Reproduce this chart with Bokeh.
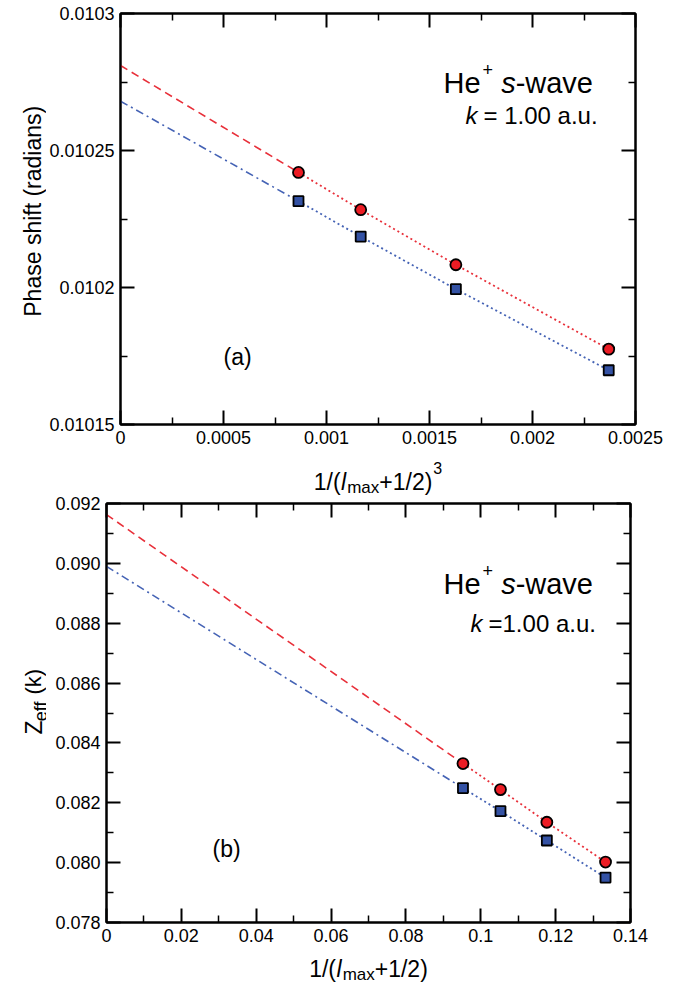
import math
from bokeh.plotting import figure
from bokeh.models import (Range1d, LinearAxis, FixedTicker, CustomJSTickFormatter, Label,
                          CustomLabelingPolicy)
from bokeh.layouts import column, row
from bokeh.embed import file_html
from bokeh.resources import INLINE

FONT = "Liberation Sans"

# ---------------- data: panel (a) ----------------
xa = [0.000864, 0.001166, 0.001628, 0.002370]          # 1/(lmax+1/2)^3 for lmax = 10, 9, 8, 7
red_a = [0.010242, 0.0102284, 0.0102083, 0.0101775]
blue_a = [0.0102315, 0.0102186, 0.0101994, 0.0101698]
red_a0 = 0.010281                                     # extrapolated value at 0
blue_a0 = 0.010268
xa_ticks = [0, 0.0005, 0.001, 0.0015, 0.002, 0.0025]
xa_labels = ["0", "0.0005", "0.001", "0.0015", "0.002", "0.0025"]
xa_minor = [0.00025, 0.00075, 0.00125, 0.00175, 0.00225]
ya_ticks = [0.01015, 0.0102, 0.01025, 0.0103]
ya_labels = ["0.01015", "0.0102", "0.01025", "0.0103"]
ya_minor = [0.010175, 0.010225, 0.010275]

# ---------------- data: panel (b) ----------------
xb = [0.09524, 0.10526, 0.11765, 0.13333]              # 1/(lmax+1/2)
red_b = [0.08331, 0.08244, 0.08135, 0.08002]
blue_b = [0.08249, 0.08172, 0.08074, 0.07950]
red_b0 = 0.09163
blue_b0 = 0.08990
xb_ticks = [0, 0.02, 0.04, 0.06, 0.08, 0.1, 0.12, 0.14]
xb_labels = ["0", "0.02", "0.04", "0.06", "0.08", "0.1", "0.12", "0.14"]
xb_minor = [0.01, 0.03, 0.05, 0.07, 0.09, 0.11, 0.13]
yb_ticks = [0.078, 0.080, 0.082, 0.084, 0.086, 0.088, 0.090, 0.092]
yb_labels = ["0.078", "0.080", "0.082", "0.084", "0.086", "0.088", "0.090", "0.092"]
yb_minor = [0.079, 0.081, 0.083, 0.085, 0.087, 0.089, 0.091]

RED_FILL = "#ec1c24"
RED_LINE = "#e8303a"
BLUE_FILL = "#3452a4"
BLUE_LINE = "#4563b5"

W = {'0': .556, '1': .556, '2': .556, '3': .556, '4': .556, '5': .556, '6': .556, '7': .556,
     '8': .556, '9': .556, '.': .278, '/': .278, '(': .333, ')': .333, '+': .584, 'l': .222,
     'm': .833, 'a': .556, 'x': .5, 'H': .722, 'e': .556, 's': .5, '-': .333, 'w': .722,
     'v': .5, 'k': .5, '=': .584, ' ': .278, 'u': .556, 'Z': .611, 'f': .278, 'P': .667,
     'h': .556, 'i': .222, 't': .278, 'r': .333, 'd': .556, 'n': .556}


def twidth(txt, size):
    return sum(W.get(c, .556) for c in txt) * size


FMT_CODE = """
let best = 0; let d = Infinity;
for (let i = 0; i < tv.length; i++) {
  const e = Math.abs(tv[i] - tick);
  if (e < d) { d = e; best = i; }
}
return tl[best];
"""

HIDE_CODE = """
try { for (let i = 0; i < indices.size; i++) indices.unset(i); } catch (e) {}
return indices;
"""


def make_fig(xr, yr, fw, fh, xt, xl, xm, yt, yl, ym, mb):
    p = figure(frame_width=fw, frame_height=fh, x_range=Range1d(*xr), y_range=Range1d(*yr),
               output_backend="svg", toolbar_location=None, title_location=None,
               min_border_left=mb[0], min_border_right=mb[1], min_border_top=mb[2],
               min_border_bottom=mb[3])
    p.grid.visible = False
    p.outline_line_color = "black"
    p.outline_line_width = 2
    p.background_fill_color = "white"
    p.border_fill_color = "white"
    xt_ = FixedTicker(ticks=xt, minor_ticks=xm)
    yt_ = FixedTicker(ticks=yt, minor_ticks=ym)
    p.xaxis.ticker = xt_
    p.yaxis.ticker = yt_
    p.xaxis.formatter = CustomJSTickFormatter(args=dict(tv=xt, tl=xl), code=FMT_CODE)
    p.yaxis.formatter = CustomJSTickFormatter(args=dict(tv=yt, tl=yl), code=FMT_CODE)
    for ax in list(p.xaxis) + list(p.yaxis):
        ax.major_label_text_font = FONT
        ax.major_label_text_font_size = "18px"
        ax.major_label_text_color = "black"
        ax.major_label_standoff = 6
    extra = [LinearAxis(ticker=xt_), LinearAxis(ticker=yt_)]
    p.add_layout(extra[0], "above")
    p.add_layout(extra[1], "right")
    for ax in extra:
        ax.major_label_text_font_size = "0px"
        ax.major_label_standoff = 0
        ax.major_label_policy = CustomLabelingPolicy(code=HIDE_CODE)
    for ax in list(p.xaxis) + list(p.yaxis) + extra:
        ax.axis_line_width = 2
        ax.axis_line_color = "black"
        ax.major_tick_in = 14
        ax.major_tick_out = 0
        ax.minor_tick_in = 7
        ax.minor_tick_out = 0
        ax.major_tick_line_width = 2
        ax.minor_tick_line_width = 1.5
        ax.major_tick_line_color = "black"
        ax.minor_tick_line_color = "black"
    return p


def strip(w, h):
    s = figure(width=w, height=h, x_range=Range1d(0, w), y_range=Range1d(0, h),
               output_backend="svg", toolbar_location=None, title_location=None,
               min_border_left=0, min_border_right=0, min_border_top=0, min_border_bottom=0)
    s.axis.visible = False
    s.grid.visible = False
    s.outline_line_color = None
    s.background_fill_color = "white"
    s.border_fill_color = "white"
    return s


def put_text(p, fx, fy, parts, xr, yr, fw, fh, vertical=False, align="left"):
    """parts: (text, size, style, dy, gap); fx, fy in px from frame top-left."""
    adv = 0.0
    for txt, size, style, dy, gap in parts:
        adv += gap
        if vertical:
            px, py = fx + dy, fy - adv
        else:
            px, py = fx + adv, fy + dy
        x = xr[0] + px * (xr[1] - xr[0]) / fw
        y = yr[1] - py * (yr[1] - yr[0]) / fh
        p.add_layout(Label(x=x, y=y, text=txt, text_font=FONT, text_font_size=f"{size}px",
                           text_font_style=style, text_color="black", text_align=align,
                           text_baseline="alphabetic",
                           angle=(math.pi / 2 if vertical else 0)))
        adv += twidth(txt, size)
    return adv


def put_strip(s, w, h, fx, fy, parts, vertical=False, align="left"):
    return put_text(s, fx, fy, parts, (0, w), (0, h), w, h, vertical, align)


def draw_series(p, xs, ys, y0, fill, line, dash, marker, msize):
    p.line([0, xs[0]], [y0, ys[0]], line_color=line, line_width=1.6, line_dash=dash)
    p.line(xs, ys, line_color=line, line_width=1.8, line_dash="2 3")
    p.scatter(xs, ys, marker=marker, size=msize, fill_color=fill, line_color="black",
              line_width=1.8)


def xlabel_parts(with_cube):
    parts = [("1/(", 23, "normal", 0, 0), ("l", 23, "italic", 0, 0.5),
             ("max", 17, "normal", 6, 1), ("+1/2)", 23, "normal", 0, 0)]
    if with_cube:
        parts.append(("3", 16, "normal", -14, 1))
    return parts


def he_parts(size):
    return [("He", size, "normal", 0, 0), ("+", 18, "normal", -13, 2),
            ("s", size, "italic", 0, twidth(" ", size)), ("-wave", size, "normal", 0, 0)]


TOTAL_W = 675

# ---------------- panel (a) ----------------
XRA, YRA, FWA, FHA = (0, 0.0025), (0.01015, 0.0103), 515, 411
YS1_W = 46
p1 = make_fig(XRA, YRA, FWA, FHA, xa_ticks, xa_labels, xa_minor, ya_ticks, ya_labels, ya_minor,
              (120 - YS1_W, TOTAL_W - 120 - FWA, 13, 27))
H1 = 13 + FHA + 27
draw_series(p1, xa, red_a, red_a0, RED_FILL, RED_LINE, "8 5", "circle", 11)
draw_series(p1, xa, blue_a, blue_a0, BLUE_FILL, BLUE_LINE, "8 4 2 4", "square", 10)
put_text(p1, 323, 69, he_parts(29), XRA, YRA, FWA, FHA)
put_text(p1, 345, 102, [("k", 24, "italic", 0, 0), ("= 1.00 a.u.", 24, "normal", 0, 6)],
         XRA, YRA, FWA, FHA)
put_text(p1, 103, 343, [("(a)", 23, "normal", 0, 0)], XRA, YRA, FWA, FHA)

ys1 = strip(YS1_W, H1)
put_strip(ys1, YS1_W, H1, 32, 217, [("Phase shift (radians)", 23, "normal", 0, 0)],
          vertical=True, align="center")

XS1_H = 44
xs1 = strip(TOTAL_W, XS1_H)
parts = xlabel_parts(True)
tot = sum(twidth(t, s) + g for t, s, _, _, g in parts)
put_strip(xs1, TOTAL_W, XS1_H, 377.5 - tot / 2, 30, parts)

# ---------------- panel (b) ----------------
XRB, YRB, FWB, FHB = (0, 0.14), (0.078, 0.092), 524, 419
YS2_W = 46
p2 = make_fig(XRB, YRB, FWB, FHB, xb_ticks, xb_labels, xb_minor, yb_ticks, yb_labels, yb_minor,
              (106 - YS2_W, TOTAL_W - 106 - FWB, 8, 30))
H2 = 8 + FHB + 30
draw_series(p2, xb, red_b, red_b0, RED_FILL, RED_LINE, "8 5", "circle", 11)
draw_series(p2, xb, blue_b, blue_b0, BLUE_FILL, BLUE_LINE, "8 4 2 4", "square", 10)
put_text(p2, 337, 80, he_parts(29), XRB, YRB, FWB, FHB)
put_text(p2, 364, 120, [("k", 24, "italic", 0, 0), ("=1.00 a.u.", 24, "normal", 0, 6)],
         XRB, YRB, FWB, FHB)
put_text(p2, 106, 345, [("(b)", 23, "normal", 0, 0)], XRB, YRB, FWB, FHB)

ys2 = strip(YS2_W, H2)
put_strip(ys2, YS2_W, H2, 33, 252, [("Z", 23, "normal", 0, 0), ("eff", 18, "normal", 7, 0.5),
                                    ("(k)", 22, "normal", 0, 9)], vertical=True)

XS2_H = 31
xs2 = strip(TOTAL_W, XS2_H)
parts = xlabel_parts(False)
tot = sum(twidth(t, s) + g for t, s, _, _, g in parts)
put_strip(xs2, TOTAL_W, XS2_H, 106 + FWB / 2 - tot / 2, 16, parts)

layout = column(row(ys1, p1, spacing=0), xs1, row(ys2, p2, spacing=0), xs2, spacing=0)
open("out.html", "w").write(file_html(layout, INLINE))
